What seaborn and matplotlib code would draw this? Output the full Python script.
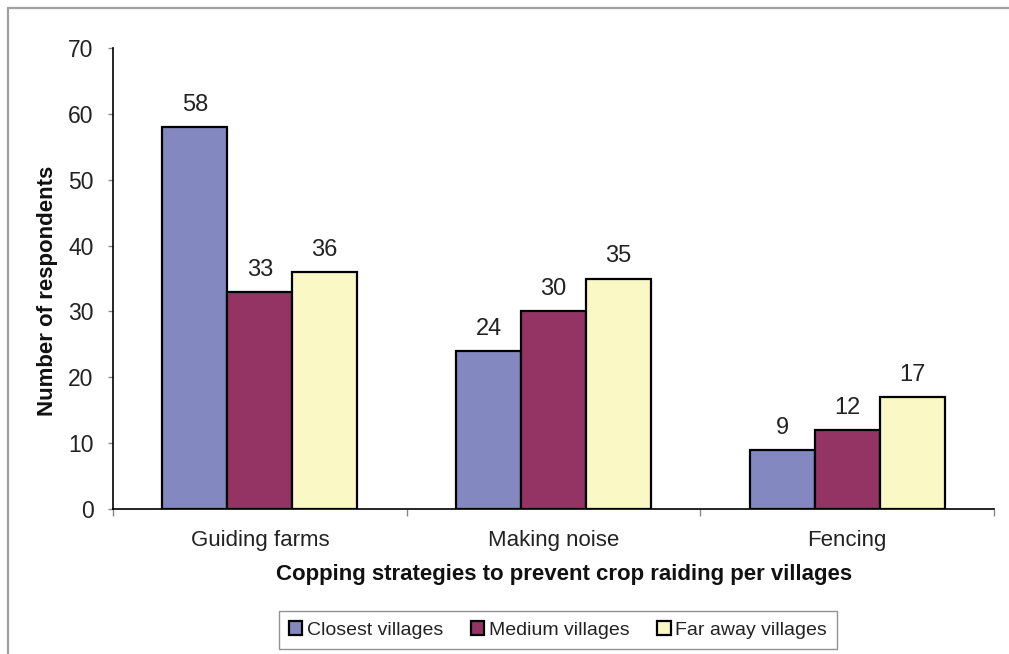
import matplotlib
matplotlib.use("Agg")
import matplotlib.pyplot as plt
from matplotlib.lines import Line2D
import seaborn as sns
import pandas as pd

# Coping strategies and respondent counts per village group
strategies = ["Guiding farms", "Making noise", "Fencing"]
groups = ["Closest villages", "Medium villages", "Far away villages"]
closest = [58, 24, 9]
medium = [33, 30, 12]
far_away = [36, 35, 17]
colors = ["#8488C0", "#943464", "#FAF8C4"]

records = []
for grp, vals in zip(groups, [closest, medium, far_away]):
    for s, v in zip(strategies, vals):
        records.append({"Strategy": s, "Group": grp, "Respondents": v})
df = pd.DataFrame(records)

sns.set_theme(style="white")
plt.rcParams["font.family"] = ["Liberation Sans", "DejaVu Sans"]

fig = plt.figure(figsize=(10.09, 6.54), dpi=100)
ax = fig.add_axes([113 / 1009, 1 - 509 / 654, (994 - 113) / 1009, (509 - 48) / 654])

sns.barplot(data=df, x="Strategy", y="Respondents", hue="Group",
            order=strategies, hue_order=groups, palette=colors,
            width=0.663, gap=0, edgecolor="black", linewidth=1.6,
            saturation=1, ax=ax, legend=True)

for cont in ax.containers:
    ax.bar_label(cont, fmt="%d", padding=8, fontsize=17, color="#222222")

ax.set_ylim(0, 70)
ax.set_yticks(range(0, 71, 10))
ax.set_xlim(-0.5, 2.5)
ax.set_xticks(range(len(strategies)))
ax.set_xticklabels(strategies)
ax.set_xticks([-0.5, 0.5, 1.5, 2.5], minor=True)

ax.tick_params(axis="y", which="major", left=True, length=3.6, width=1,
               color="#888888", labelsize=16.5, labelcolor="#222222", pad=10.5)
ax.tick_params(axis="x", which="major", bottom=False, labelsize=16,
               labelcolor="#222222", pad=9)
ax.tick_params(axis="x", which="minor", bottom=True, length=5, width=1,
               color="#888888")

for side in ["top", "right"]:
    ax.spines[side].set_visible(False)
for side in ["left", "bottom"]:
    ax.spines[side].set_color("black")
    ax.spines[side].set_linewidth(1.2)

ax.set_ylabel("Number of respondents", fontsize=16, fontweight="bold",
              color="#111111")
ax.set_xlabel("Copping strategies to prevent crop raiding per villages",
              fontsize=16, fontweight="bold", color="#111111")
ax.yaxis.set_label_coords(-0.0749, 0.473)
ax.yaxis.label.set_verticalalignment("center")
ax.xaxis.set_label_coords(0.512, -0.143)
ax.xaxis.label.set_verticalalignment("center")

handles, labels = ax.get_legend_handles_labels()
ax.legend_.remove()
leg = fig.legend(handles, labels, loc="center", ncol=3,
                 bbox_to_anchor=(558 / 1009, 1 - 630 / 654),
                 fontsize=14, frameon=True, fancybox=False,
                 edgecolor="#777777", handlelength=0.7, handleheight=0.7,
                 handletextpad=0.25, columnspacing=1.4, borderpad=0.5)
leg.get_frame().set_linewidth(1.0)
for t in leg.get_texts():
    t.set_color("#222222")

# Outer chart-area border (top and left edges)
fig.add_artist(Line2D([7.5 / 1009, 1.0], [1 - 7.5 / 654] * 2,
                      transform=fig.transFigure, color="#A0A0A0", linewidth=1.6))
fig.add_artist(Line2D([7.5 / 1009] * 2, [0.0, 1 - 7.5 / 654],
                      transform=fig.transFigure, color="#A0A0A0", linewidth=1.6))

fig.savefig("out.png", dpi=100, facecolor="white")
